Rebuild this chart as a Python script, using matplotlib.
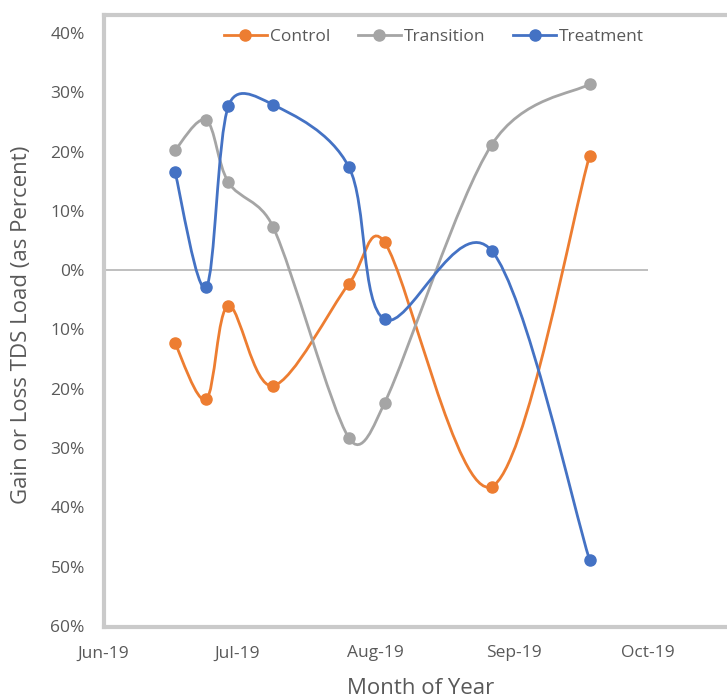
import numpy as np
import matplotlib
matplotlib.use("Agg")
import matplotlib.pyplot as plt
import matplotlib.dates as mdates
from matplotlib.path import Path
from matplotlib.patches import PathPatch
from matplotlib.lines import Line2D
import datetime as dt

plt.rcParams['font.family'] = ['Open Sans', 'DejaVu Sans']

# sample dates and gains/losses (fraction)
dates = ["2019-06-17", "2019-06-24", "2019-06-29", "2019-07-09",
         "2019-07-26", "2019-08-03", "2019-08-27", "2019-09-18"]
control = [-0.123, -0.218, -0.060, -0.195, -0.023, 0.047, -0.365, 0.193]
transition = [0.202, 0.253, 0.148, 0.073, -0.283, -0.224, 0.211, 0.314]
treatment = [0.166, -0.029, 0.277, 0.279, 0.174, -0.083, 0.033, -0.489]

series_names = ["Control", "Transition", "Treatment"]
series_colors = ["#ED7D31", "#A5A5A5", "#4472C4"]

xtick_dates = ["2019-06-01", "2019-07-01", "2019-08-01", "2019-09-01", "2019-10-01"]
xtick_labels = ["Jun-19", "Jul-19", "Aug-19", "Sep-19", "Oct-19"]
ytick_vals = [0.4, 0.3, 0.2, 0.1, 0.0, -0.1, -0.2, -0.3, -0.4, -0.5, -0.6]
ytick_labels = ["40%", "30%", "20%", "10%", "0%", "10%", "20%", "30%", "40%", "50%", "60%"]

x = mdates.date2num([dt.datetime.fromisoformat(d) for d in dates])

W, H = 727.0, 698.0
fig = plt.figure(figsize=(7.27, 6.98), dpi=100)
ax = fig.add_axes([0.1425, 0.1032, 0.7483, 0.8496])
ax.set_xlim(mdates.date2num(dt.datetime(2019, 6, 1)), mdates.date2num(dt.datetime(2019, 10, 1)))
ax.set_ylim(-0.6, 0.4)


def smooth_path(xs, ys):
    # excel-like smoothed line, bezier control points worked out in pixels
    pts = ax.transData.transform(np.column_stack([xs, ys]))
    n = len(pts)
    verts = [pts[0]]
    codes = [Path.MOVETO]
    for i in range(n - 1):
        p0 = pts[max(i - 1, 0)]
        p1 = pts[i]
        p2 = pts[i + 1]
        p3 = pts[min(i + 2, n - 1)]
        half = np.hypot(*(p2 - p1)) / 2
        t1 = (p2 - p0) / 6.0
        t2 = (p3 - p1) / 6.0
        if np.hypot(*t1) > half:
            t1 = t1 * half / np.hypot(*t1)
        if np.hypot(*t2) > half:
            t2 = t2 * half / np.hypot(*t2)
        verts += [p1 + t1, p2 - t2, p2]
        codes += [Path.CURVE4] * 3
    verts = ax.transData.inverted().transform(np.array(verts))
    return Path(verts, codes)


tc = "#595959"
handles = []
for name, vals, col in zip(series_names, [control, transition, treatment], series_colors):
    ax.add_patch(PathPatch(smooth_path(x, vals), facecolor="none", edgecolor=col,
                           lw=2.0, zorder=3, capstyle="round"))
    ax.plot(x, vals, ls="none", marker="o", ms=8, color=col, zorder=4)
    handles.append(Line2D([], [], color=col, lw=2.0, marker="o", ms=8, label=name))

ax.axhline(0, color="#b4b4b4", lw=1.2, zorder=1)

ax.set_xticks(mdates.date2num([dt.datetime.fromisoformat(d) for d in xtick_dates]))
ax.set_xticklabels(xtick_labels)
ax.set_yticks(ytick_vals)
ax.set_yticklabels(ytick_labels)
ax.tick_params(length=0, labelsize=12.5, colors=tc)
ax.tick_params(axis="y", pad=13.5)
ax.tick_params(axis="x", pad=14)
for s in ax.spines.values():
    s.set_visible(False)

fig.text(421 / W, 1 - 688 / H, "Month of Year", fontsize=16, color=tc, ha="center", va="center")
fig.text(22 / W, 1 - 325 / H, "Gain or Loss TDS Load (as Percent)", fontsize=16, color=tc,
         ha="center", va="center", rotation=90)

ax.legend(handles=handles, loc="center", bbox_to_anchor=(0.607, 0.993), ncol=3,
          frameon=False, fontsize=12.5, labelcolor=tc, handlelength=2.5,
          handletextpad=0.15, columnspacing=1.6, borderpad=0, borderaxespad=0)

# grey chart border (left, top, bottom)
fc = "#cacaca"
fig.add_artist(Line2D([104 / W, 104 / W], [1 - 15 / H, 1 - 627 / H], transform=fig.transFigure, color=fc, lw=3))
fig.add_artist(Line2D([104 / W, 1.0], [1 - 15 / H, 1 - 15 / H], transform=fig.transFigure, color=fc, lw=3))
fig.add_artist(Line2D([104 / W, 1.0], [1 - 627 / H, 1 - 627 / H], transform=fig.transFigure, color=fc, lw=3))

fig.savefig("out.png", dpi=100)
